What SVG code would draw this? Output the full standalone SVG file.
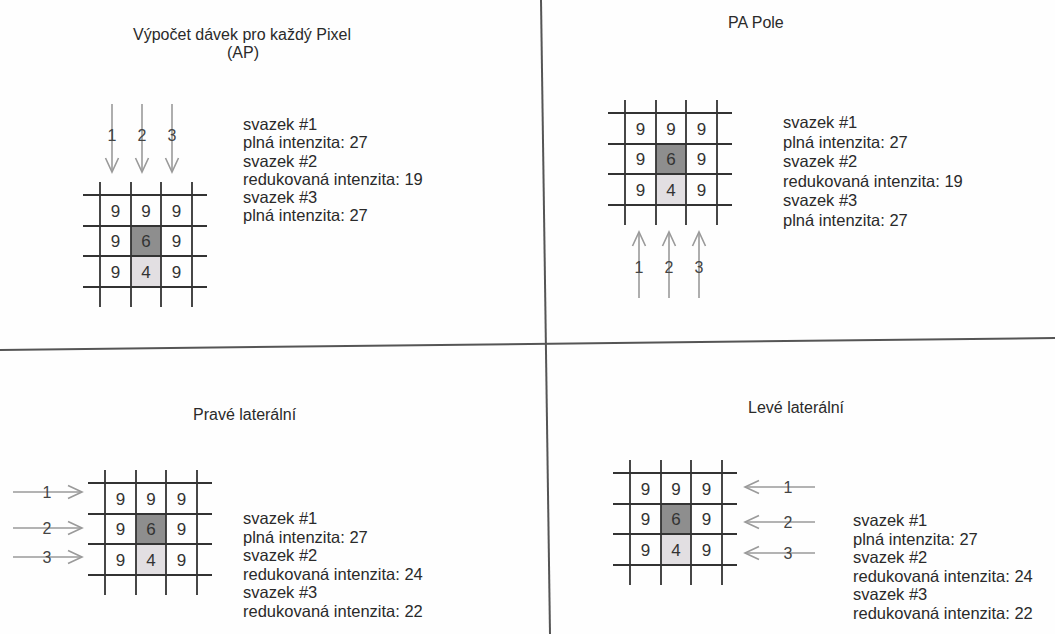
<svg xmlns="http://www.w3.org/2000/svg" width="1055" height="634" viewBox="0 0 1055 634">
<defs>
<marker id="open" viewBox="-16 -8 18 16" refX="0" refY="0" markerWidth="18" markerHeight="16" markerUnits="userSpaceOnUse" orient="auto">
<path d="M-14,-6.5 L0,0 L-14,6.5" fill="none" stroke="#9a9a9a" stroke-width="1.6"/>
</marker>
<g id="gridShape">
<rect x="48" y="44" width="30" height="30" fill="#8e8e8e"/>
<rect x="48" y="74" width="30" height="31" fill="#e2dfe2"/>
<path d="M17,0 V125 M48,0 V125 M78,0 V125 M109,0 V125 M0,13 H124 M0,44 H124 M0,74 H124 M0,105 H124" stroke="#333" stroke-width="1.8" fill="none"/>
</g>
</defs>
<style>
text{font-family:"Liberation Sans",Arial,sans-serif;fill:#2a2a2a}
.t{font-size:16px}
.b{font-size:16.5px}
.n{font-size:17px;text-anchor:middle;fill:#333}
.l{font-size:16px;text-anchor:middle;fill:#444}
.arr{stroke:#9a9a9a;stroke-width:1.6;fill:none;marker-end:url(#open)}
.div{stroke:#555;stroke-width:2;fill:none}
</style>
<rect width="1055" height="634" fill="#fefefe"/>
<g id="dividers">
<line class="div" x1="541" y1="0" x2="550" y2="634"/>
<line class="div" x1="0" y1="350" x2="1055" y2="338"/>
</g>
<g id="connectors">
<line class="arr" x1="112" y1="104" x2="112" y2="172"/>
<line class="arr" x1="142" y1="104" x2="142" y2="172"/>
<line class="arr" x1="172" y1="104" x2="172" y2="172"/>
<line class="arr" x1="639" y1="298" x2="639" y2="232"/>
<line class="arr" x1="669" y1="298" x2="669" y2="232"/>
<line class="arr" x1="699" y1="298" x2="699" y2="232"/>
<line class="arr" x1="13" y1="492" x2="82" y2="492"/>
<line class="arr" x1="13" y1="528" x2="82" y2="528"/>
<line class="arr" x1="13" y1="557" x2="82" y2="557"/>
<line class="arr" x1="815" y1="487" x2="745" y2="487"/>
<line class="arr" x1="815" y1="522" x2="745" y2="522"/>
<line class="arr" x1="815" y1="553" x2="745" y2="553"/>
<text class="l" x="112" y="141">1</text>
<text class="l" x="142" y="141">2</text>
<text class="l" x="172" y="141">3</text>
<text class="l" x="639" y="273">1</text>
<text class="l" x="669" y="273">2</text>
<text class="l" x="699" y="273">3</text>
<text class="l" x="47" y="498">1</text>
<text class="l" x="47" y="534">2</text>
<text class="l" x="47" y="563">3</text>
<text class="l" x="788" y="493">1</text>
<text class="l" x="788" y="528">2</text>
<text class="l" x="788" y="559">3</text>
</g>
<g id="ap">
<text class="t" x="242" y="40" text-anchor="middle">Výpočet dávek pro každý Pixel</text>
<text class="t" x="243" y="58" text-anchor="middle">(AP)</text>
<g transform="translate(83,182)">
<use href="#gridShape"/>
<text class="n" x="32.5" y="34.5">9</text><text class="n" x="63" y="34.5">9</text><text class="n" x="93.5" y="34.5">9</text>
<text class="n" x="32.5" y="65">9</text><text class="n" x="63" y="65">6</text><text class="n" x="93.5" y="65">9</text>
<text class="n" x="32.5" y="96">9</text><text class="n" x="63" y="96">4</text><text class="n" x="93.5" y="96">9</text>
</g>
<text class="b" x="243" y="130">svazek #1</text>
<text class="b" x="243" y="148">plná intenzita: 27</text>
<text class="b" x="243" y="166.5">svazek #2</text>
<text class="b" x="243" y="184.5">redukovaná intenzita: 19</text>
<text class="b" x="243" y="203">svazek #3</text>
<text class="b" x="243" y="221">plná intenzita: 27</text>
</g>
<g id="pa">
<text class="t" x="728" y="28">PA Pole</text>
<g transform="translate(608,100)">
<use href="#gridShape"/>
<text class="n" x="32.5" y="34.5">9</text><text class="n" x="63" y="34.5">9</text><text class="n" x="93.5" y="34.5">9</text>
<text class="n" x="32.5" y="65">9</text><text class="n" x="63" y="65">6</text><text class="n" x="93.5" y="65">9</text>
<text class="n" x="32.5" y="96">9</text><text class="n" x="63" y="96">4</text><text class="n" x="93.5" y="96">9</text>
</g>
<text class="b" x="783" y="128">svazek #1</text>
<text class="b" x="783" y="147.5">plná intenzita: 27</text>
<text class="b" x="783" y="167">svazek #2</text>
<text class="b" x="783" y="186.5">redukovaná intenzita: 19</text>
<text class="b" x="783" y="206">svazek #3</text>
<text class="b" x="783" y="225.5">plná intenzita: 27</text>
</g>
<g id="prave">
<text class="t" x="193" y="420">Pravé laterální</text>
<g transform="translate(88,470)">
<use href="#gridShape"/>
<text class="n" x="32.5" y="34.5">9</text><text class="n" x="63" y="34.5">9</text><text class="n" x="93.5" y="34.5">9</text>
<text class="n" x="32.5" y="65">9</text><text class="n" x="63" y="65">6</text><text class="n" x="93.5" y="65">9</text>
<text class="n" x="32.5" y="96">9</text><text class="n" x="63" y="96">4</text><text class="n" x="93.5" y="96">9</text>
</g>
<text class="b" x="243" y="524">svazek #1</text>
<text class="b" x="243" y="542.5">plná intenzita: 27</text>
<text class="b" x="243" y="561">svazek #2</text>
<text class="b" x="243" y="579.5">redukovaná intenzita: 24</text>
<text class="b" x="243" y="598">svazek #3</text>
<text class="b" x="243" y="616.5">redukovaná intenzita: 22</text>
</g>
<g id="leve">
<text class="t" x="748" y="413">Levé laterální</text>
<g transform="translate(613,460)">
<use href="#gridShape"/>
<text class="n" x="32.5" y="34.5">9</text><text class="n" x="63" y="34.5">9</text><text class="n" x="93.5" y="34.5">9</text>
<text class="n" x="32.5" y="65">9</text><text class="n" x="63" y="65">6</text><text class="n" x="93.5" y="65">9</text>
<text class="n" x="32.5" y="96">9</text><text class="n" x="63" y="96">4</text><text class="n" x="93.5" y="96">9</text>
</g>
<text class="b" x="853" y="526">svazek #1</text>
<text class="b" x="853" y="544.5">plná intenzita: 27</text>
<text class="b" x="853" y="563">svazek #2</text>
<text class="b" x="853" y="581.5">redukovaná intenzita: 24</text>
<text class="b" x="853" y="600">svazek #3</text>
<text class="b" x="853" y="618.5">redukovaná intenzita: 22</text>
</g>
</svg>
